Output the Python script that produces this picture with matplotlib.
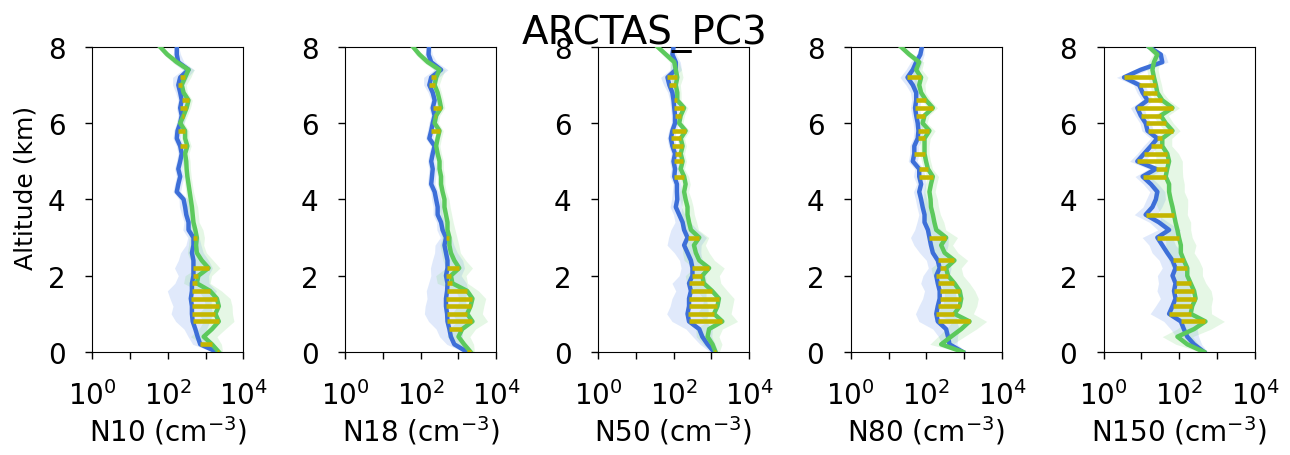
import matplotlib
matplotlib.use('Agg')
import matplotlib.pyplot as plt
from matplotlib.ticker import NullLocator
import numpy as np

plt.rcParams['font.family'] = ['DejaVu Sans']

# altitude levels (km), bottom to top
altitude = np.round(np.arange(0, 8.01, 0.2), 1)

# log10 of number concentration (cm-3) at each altitude level
# blue profile / green profile, spreads in decades, yellow = significant difference

# --- N10 ---
n10_blue = [3.30, 2.86, 2.79, 2.73, 2.66, 2.64, 2.64, 2.61, 2.64, 2.64, 2.68,
            2.68, 2.68, 2.64, 2.68, 2.68, 2.55, 2.55, 2.49, 2.46, 2.42,
            2.24, 2.28, 2.33, 2.28, 2.33, 2.37, 2.33, 2.24, 2.26, 2.33,
            2.37, 2.33, 2.37, 2.33, 2.28, 2.33, 2.55, 2.28, 2.24, 2.24]
n10_green = [3.35, 3.17, 2.95, 3.17, 3.35, 3.26, 3.35, 3.30, 3.12, 2.77, 2.81,
             3.08, 2.90, 2.77, 2.75, 2.77, 2.73, 2.68, 2.66, 2.64, 2.61,
             2.58, 2.55, 2.52, 2.50, 2.49, 2.46, 2.52, 2.46, 2.46, 2.33,
             2.42, 2.50, 2.55, 2.42, 2.37, 2.46, 2.55, 2.24, 1.99, 1.80]
n10_blue_sd = [0.10, 0.20, 0.25, 0.30, 0.45, 0.55, 0.50, 0.55, 0.65, 0.45, 0.40,
               0.50, 0.40, 0.30, 0.20, 0.15, 0.15, 0.12, 0.12, 0.15, 0.12,
               0.10, 0.10, 0.10, 0.10, 0.10, 0.10, 0.10, 0.10, 0.10, 0.10,
               0.10, 0.10, 0.10, 0.12, 0.15, 0.20, 0.15, 0.15, 0.10, 0.05]
n10_green_sd = [0.10, 0.25, 0.35, 0.35, 0.40, 0.45, 0.35, 0.35, 0.30, 0.35, 0.35,
                0.30, 0.30, 0.25, 0.20, 0.20, 0.20, 0.15, 0.15, 0.15, 0.12,
                0.10, 0.10, 0.10, 0.10, 0.10, 0.10, 0.10, 0.10, 0.10, 0.10,
                0.10, 0.10, 0.10, 0.10, 0.12, 0.15, 0.15, 0.12, 0.10, 0.05]
n10_sig = [0.0, 0.2, 0.8, 1.0, 1.2, 1.4, 1.6, 1.8, 2.0, 2.2, 3.0,
           5.4, 5.8, 6.2, 6.4, 6.6, 7.0, 7.2]

# --- N18 ---
n18_blue = [3.23, 2.89, 2.80, 2.76, 2.71, 2.70, 2.67, 2.67, 2.70, 2.71, 2.67,
            2.71, 2.71, 2.67, 2.63, 2.67, 2.58, 2.54, 2.45, 2.45, 2.41,
            2.37, 2.28, 2.30, 2.32, 2.28, 2.32, 2.37, 2.23, 2.28, 2.32,
            2.37, 2.32, 2.37, 2.32, 2.23, 2.28, 2.54, 2.28, 2.21, 2.22]
n18_green = [3.32, 3.15, 3.00, 3.10, 3.37, 3.23, 3.32, 3.37, 3.23, 2.84, 2.80,
             3.02, 2.89, 2.80, 2.76, 2.76, 2.71, 2.71, 2.67, 2.63, 2.63,
             2.58, 2.54, 2.54, 2.50, 2.50, 2.45, 2.41, 2.45, 2.50, 2.37,
             2.41, 2.54, 2.50, 2.45, 2.37, 2.41, 2.50, 2.19, 1.97, 1.80]
n18_blue_sd = [0.10, 0.20, 0.30, 0.35, 0.50, 0.60, 0.55, 0.50, 0.55, 0.50, 0.40,
               0.45, 0.40, 0.30, 0.25, 0.15, 0.15, 0.12, 0.12, 0.12, 0.12,
               0.10, 0.10, 0.10, 0.10, 0.10, 0.10, 0.10, 0.10, 0.10, 0.10,
               0.10, 0.10, 0.10, 0.12, 0.15, 0.20, 0.18, 0.15, 0.10, 0.05]
n18_green_sd = [0.10, 0.25, 0.30, 0.35, 0.40, 0.40, 0.35, 0.35, 0.30, 0.40, 0.40,
                0.35, 0.30, 0.25, 0.25, 0.20, 0.20, 0.15, 0.15, 0.15, 0.12,
                0.10, 0.10, 0.10, 0.10, 0.10, 0.10, 0.10, 0.10, 0.10, 0.10,
                0.10, 0.10, 0.10, 0.10, 0.12, 0.15, 0.15, 0.12, 0.10, 0.05]
n18_sig = [0.0, 0.6, 0.8, 1.0, 1.2, 1.4, 1.6, 1.8, 2.0, 2.2, 3.0,
           5.8, 6.2, 6.4, 7.0, 7.2]

# --- N50 ---
n50_blue = [3.07, 2.90, 2.76, 2.68, 2.41, 2.37, 2.41, 2.41, 2.46, 2.41, 2.50,
            2.50, 2.46, 2.37, 2.28, 2.37, 2.28, 2.24, 2.15, 2.06, 2.10,
            2.09, 2.09, 2.02, 2.04, 2.00, 2.04, 1.97, 1.93, 1.97, 2.04,
            2.04, 2.02, 2.00, 1.97, 1.89, 1.84, 2.06, 2.06, 1.97, 2.00]
n50_green = [3.11, 3.03, 2.90, 2.94, 3.29, 3.07, 3.16, 3.20, 3.02, 2.80, 2.76,
             2.94, 2.68, 2.59, 2.54, 2.68, 2.46, 2.41, 2.37, 2.37, 2.32,
             2.28, 2.32, 2.28, 2.19, 2.24, 2.19, 2.24, 2.19, 2.32, 2.15,
             2.19, 2.28, 2.10, 2.10, 2.06, 2.10, 2.06, 2.02, 1.80, 1.58]
n50_blue_sd = [0.10, 0.20, 0.25, 0.35, 0.45, 0.55, 0.50, 0.45, 0.40, 0.45, 0.35,
               0.30, 0.30, 0.35, 0.45, 0.50, 0.35, 0.20, 0.15, 0.15, 0.15,
               0.12, 0.10, 0.12, 0.10, 0.10, 0.10, 0.10, 0.10, 0.10, 0.10,
               0.10, 0.10, 0.10, 0.12, 0.15, 0.18, 0.15, 0.12, 0.10, 0.05]
n50_green_sd = [0.10, 0.25, 0.30, 0.35, 0.40, 0.45, 0.40, 0.40, 0.40, 0.45, 0.45,
                0.40, 0.40, 0.35, 0.30, 0.25, 0.20, 0.20, 0.18, 0.15, 0.15,
                0.12, 0.12, 0.12, 0.10, 0.10, 0.10, 0.10, 0.10, 0.10, 0.10,
                0.10, 0.10, 0.10, 0.10, 0.12, 0.15, 0.15, 0.12, 0.10, 0.05]
n50_sig = [0.0, 0.8, 1.0, 1.2, 1.4, 1.6, 1.8, 2.0, 2.2, 3.0, 4.6,
           5.0, 5.2, 5.4, 5.6, 5.8, 6.2, 6.4, 6.6, 7.0, 7.2]

# --- N80 ---
n80_blue = [2.96, 2.61, 2.57, 2.52, 2.30, 2.26, 2.30, 2.35, 2.35, 2.30, 2.26,
            2.35, 2.30, 2.17, 2.12, 2.08, 2.04, 1.95, 1.95, 1.90, 1.86,
            1.81, 1.86, 1.81, 1.81, 1.64, 1.68, 1.68, 1.77, 1.79, 1.77,
            1.73, 1.70, 1.73, 1.73, 1.64, 1.50, 1.64, 1.73, 1.84, 1.88]
n80_green = [2.96, 2.39, 2.65, 2.92, 3.14, 2.74, 2.88, 2.92, 2.88, 2.74, 2.57,
             2.52, 2.74, 2.48, 2.39, 2.52, 2.26, 2.21, 2.17, 2.12, 2.11,
             2.08, 2.12, 2.17, 2.04, 1.99, 1.95, 1.95, 1.95, 2.08, 1.90,
             1.95, 2.17, 1.99, 1.86, 1.81, 1.86, 1.73, 1.81, 1.55, 1.33]
n80_blue_sd = [0.10, 0.20, 0.25, 0.35, 0.50, 0.55, 0.50, 0.45, 0.40, 0.45, 0.35,
               0.30, 0.30, 0.35, 0.45, 0.50, 0.35, 0.20, 0.15, 0.15, 0.15,
               0.15, 0.12, 0.15, 0.12, 0.12, 0.12, 0.12, 0.12, 0.12, 0.12,
               0.12, 0.12, 0.12, 0.15, 0.18, 0.20, 0.18, 0.15, 0.10, 0.05]
n80_green_sd = [0.10, 0.30, 0.35, 0.40, 0.45, 0.50, 0.45, 0.45, 0.40, 0.40, 0.40,
                0.40, 0.35, 0.35, 0.30, 0.30, 0.25, 0.25, 0.20, 0.20, 0.18,
                0.15, 0.15, 0.15, 0.12, 0.12, 0.12, 0.12, 0.15, 0.15, 0.12,
                0.12, 0.12, 0.12, 0.12, 0.15, 0.18, 0.15, 0.12, 0.10, 0.05]
n80_sig = [0.0, 0.8, 1.0, 1.2, 1.4, 1.6, 1.8, 2.0, 2.2, 2.4, 3.0,
           4.6, 4.8, 5.2, 5.6, 5.8, 6.2, 6.4, 6.6, 7.2]

# --- N150 ---
n150_blue = [2.65, 2.39, 2.21, 2.12, 2.04, 1.73, 1.82, 1.90, 1.86, 1.90, 1.82,
             1.90, 1.82, 1.68, 1.55, 1.42, 1.73, 1.46, 1.11, 1.29, 1.38,
             1.42, 1.25, 1.03, 1.38, 0.89, 1.07, 1.25, 1.42, 1.16, 1.11,
             0.98, 0.89, 1.16, 1.03, 0.94, 0.54, 0.98, 1.55, 1.51, 1.20]
n150_green = [2.65, 2.21, 1.95, 2.39, 2.69, 2.30, 2.34, 2.43, 2.39, 2.30, 2.21,
              2.21, 2.12, 2.04, 2.04, 1.99, 1.95, 1.90, 1.86, 1.82, 1.77,
              1.73, 1.73, 1.64, 1.68, 1.73, 1.68, 1.55, 1.55, 1.82, 1.64,
              1.51, 1.82, 1.55, 1.42, 1.38, 1.33, 1.29, 1.33, 1.42, 1.20]
n150_blue_sd = [0.10, 0.20, 0.30, 0.35, 0.45, 0.50, 0.45, 0.40, 0.45, 0.45, 0.40,
                0.35, 0.35, 0.40, 0.35, 0.40, 0.30, 0.25, 0.30, 0.25, 0.25,
                0.20, 0.20, 0.20, 0.20, 0.20, 0.18, 0.20, 0.18, 0.15, 0.15,
                0.15, 0.18, 0.15, 0.15, 0.15, 0.20, 0.18, 0.15, 0.12, 0.08]
n150_green_sd = [0.10, 0.30, 0.40, 0.45, 0.50, 0.55, 0.50, 0.45, 0.45, 0.40, 0.40,
                 0.40, 0.40, 0.35, 0.40, 0.35, 0.35, 0.40, 0.35, 0.40, 0.45,
                 0.40, 0.40, 0.45, 0.40, 0.35, 0.30, 0.25, 0.25, 0.20, 0.20,
                 0.20, 0.18, 0.18, 0.15, 0.15, 0.15, 0.15, 0.15, 0.12, 0.08]
n150_sig = [0.0, 0.8, 1.0, 1.2, 1.4, 1.6, 1.8, 2.2, 2.4, 3.0, 3.6,
            4.6, 4.8, 5.0, 5.2, 5.4, 5.6, 5.8, 6.0, 6.2, 6.4, 6.6, 6.8, 7.0, 7.2]

labels = ['N10 (cm$^{-3}$)', 'N18 (cm$^{-3}$)', 'N50 (cm$^{-3}$)',
          'N80 (cm$^{-3}$)', 'N150 (cm$^{-3}$)']
panels = [
    (n10_blue, n10_green, n10_blue_sd, n10_green_sd, n10_sig),
    (n18_blue, n18_green, n18_blue_sd, n18_green_sd, n18_sig),
    (n50_blue, n50_green, n50_blue_sd, n50_green_sd, n50_sig),
    (n80_blue, n80_green, n80_blue_sd, n80_green_sd, n80_sig),
    (n150_blue, n150_green, n150_blue_sd, n150_green_sd, n150_sig),
]

fig, axes = plt.subplots(1, 5, figsize=(12.9, 4.56), dpi=100)
fig.subplots_adjust(left=0.0713, right=0.9729, bottom=0.226, top=0.895, wspace=0.67)

for ax, label, (blue, green, bsd, gsd, sig) in zip(axes, labels, panels):
    b = np.array(blue)
    g = np.array(green)
    bsd = np.array(bsd)
    gsd = np.array(gsd)

    ax.fill_betweenx(altitude, 10**(b - bsd), 10**(b + bsd),
                     color='cornflowerblue', alpha=0.2, lw=0)
    ax.fill_betweenx(altitude, 10**(g - gsd), 10**(g + gsd),
                     color='#7fd87f', alpha=0.2, lw=0)
    ax.plot(10**b, altitude, color='#3d6fd8', lw=3.2, zorder=3)
    ax.plot(10**g, altitude, color='#5cc95c', lw=3.2, zorder=4)

    # yellow bars where the two profiles differ significantly
    idx = [int(np.argmin(np.abs(altitude - s))) for s in sig]
    ax.hlines(altitude[idx], 10**b[idx], 10**g[idx], color='#c4b600', lw=3.3, zorder=5)

    ax.set_xscale('log')
    ax.set_xlim(1, 1e4)
    ax.set_ylim(0, 8)
    ax.set_xticks([1, 10, 100, 1000, 10000])
    ax.set_xticklabels(['$10^{0}$', '', '$10^{2}$', '', '$10^{4}$'])
    ax.xaxis.set_minor_locator(NullLocator())
    ax.set_yticks([0, 2, 4, 6, 8])
    ax.tick_params(direction='out', length=5, width=1, labelsize=20)
    ax.tick_params(axis='x', pad=15)
    ax.tick_params(axis='y', pad=14)
    ax.set_xlabel(label, fontsize=20, labelpad=3)

axes[0].set_ylabel('Altitude (km)', fontsize=18)
axes[0].yaxis.set_label_coords(-0.36, 0.54)

fig.text(0.5, 1 - 44 / 456, 'ARCTAS_PC3', ha='center', va='baseline', fontsize=28)

fig.savefig('out.png', dpi=100)
